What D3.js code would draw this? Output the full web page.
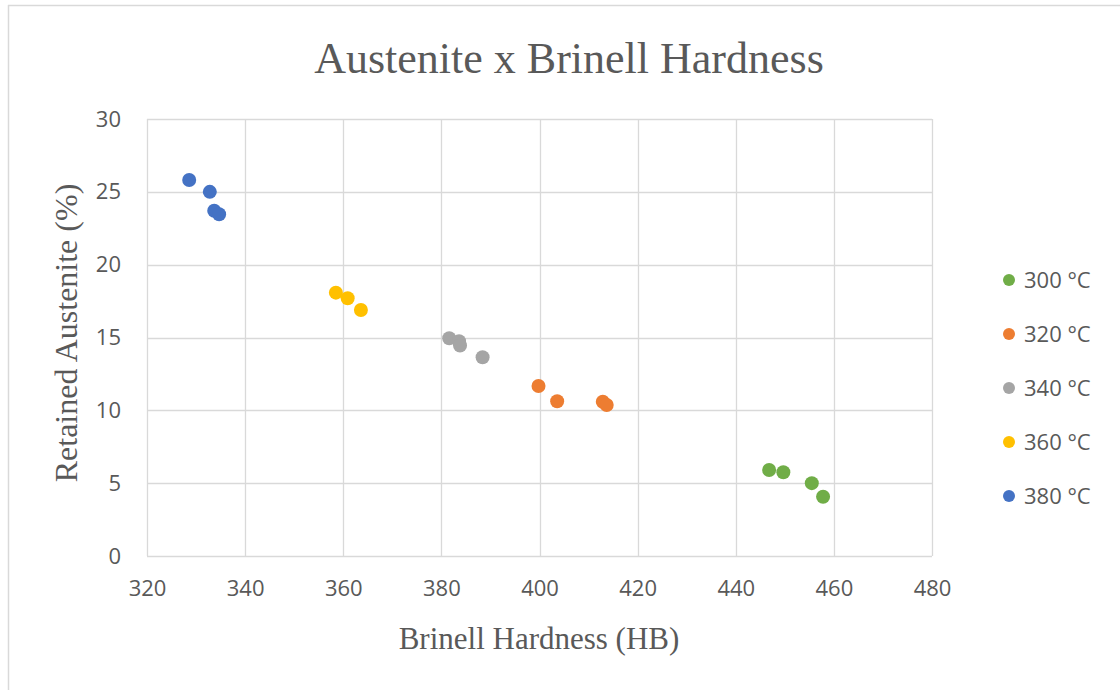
<!DOCTYPE html>
<html>
<head>
<meta charset="utf-8">
<script src="https://cdn.jsdelivr.net/npm/d3@7"></script>
<style>
  html, body { margin: 0; padding: 0; background: #fff; }
  svg { display: block; }
</style>
</head>
<body>
<svg id="chart" width="1120" height="690"></svg>
<script>
// Series: tempering temperature, colour, and measured (hardness, retained austenite) pairs
const seriesNames = ["300 °C", "320 °C", "340 °C", "360 °C", "380 °C"];
const seriesColors = ["#70ad47", "#ed7d31", "#a5a5a5", "#ffc000", "#4472c4"];

const hardness300 = [446.8, 449.7, 455.5, 457.8];
const austenite300 = [5.9, 5.75, 5.0, 4.07];

const hardness320 = [399.8, 403.6, 412.9, 413.7];
const austenite320 = [11.67, 10.62, 10.59, 10.37];

const hardness340 = [381.6, 383.6, 383.8, 388.4];
const austenite340 = [14.95, 14.75, 14.45, 13.64];

const hardness360 = [358.5, 360.9, 363.6];
const austenite360 = [18.08, 17.69, 16.89];

const hardness380 = [328.6, 332.8, 333.7, 334.7];
const austenite380 = [25.81, 25.0, 23.7, 23.46];

const xTicks = [320, 340, 360, 380, 400, 420, 440, 460, 480];
const yTicks = [0, 5, 10, 15, 20, 25, 30];

const titleText = "Austenite x Brinell Hardness";
const xTitle = "Brinell Hardness (HB)";
const yTitle = "Retained Austenite (%)";

const allHardness = [hardness300, hardness320, hardness340, hardness360, hardness380];
const allAustenite = [austenite300, austenite320, austenite340, austenite360, austenite380];

const series = seriesNames.map((name, i) => ({
  name,
  color: seriesColors[i],
  points: allHardness[i].map((h, j) => ({ x: h, y: allAustenite[i][j] }))
}));

const svg = d3.select("#chart");
const W = 1120, H = 690;
const plot = { left: 147, right: 932, top: 119, bottom: 556 };

const serif = "'Liberation Serif', 'DejaVu Serif', serif";
const sans = "'Open Sans', 'Noto Sans', sans-serif";
const textColor = "#595959";
const gridColor = "#d9d9d9";

// Chart frame (top and left edges visible)
svg.append("line").attr("x1", 8).attr("x2", W).attr("y1", 5.5).attr("y2", 5.5)
  .attr("stroke", "#d9d9d9").attr("stroke-width", 1.5);
svg.append("line").attr("x1", 8.5).attr("x2", 8.5).attr("y1", 5).attr("y2", H)
  .attr("stroke", "#d9d9d9").attr("stroke-width", 1.5);

const x = d3.scaleLinear().domain([320, 480]).range([plot.left, plot.right]);
const y = d3.scaleLinear().domain([0, 30]).range([plot.bottom, plot.top]);

// Gridlines
const grid = svg.append("g");
grid.selectAll("line.v").data(xTicks).join("line")
  .attr("class", "v")
  .attr("x1", d => Math.round(x(d)) + 0.5).attr("x2", d => Math.round(x(d)) + 0.5)
  .attr("y1", plot.top).attr("y2", plot.bottom)
  .attr("stroke", gridColor).attr("stroke-width", 1.3);
grid.selectAll("line.h").data(yTicks).join("line")
  .attr("class", "h")
  .attr("x1", plot.left).attr("x2", plot.right)
  .attr("y1", d => Math.round(y(d)) + 0.5).attr("y2", d => Math.round(y(d)) + 0.5)
  .attr("stroke", gridColor).attr("stroke-width", 1.3);

// Axes (labels only; lines come from the grid)
const xAxis = svg.append("g")
  .attr("transform", `translate(0,${plot.bottom})`)
  .call(d3.axisBottom(x).tickValues(xTicks).tickSize(0).tickPadding(24));
xAxis.select(".domain").remove();
xAxis.selectAll("text").attr("font-family", sans).attr("font-size", 22).attr("fill", textColor);

const yAxis = svg.append("g")
  .attr("transform", `translate(${plot.left},0)`)
  .call(d3.axisLeft(y).tickValues(yTicks).tickSize(0).tickPadding(26));
yAxis.select(".domain").remove();
yAxis.selectAll("text").attr("font-family", sans).attr("font-size", 22).attr("fill", textColor);

// Titles
svg.append("text").attr("x", 569).attr("y", 73).attr("text-anchor", "middle")
  .attr("font-family", serif).attr("font-size", 44).attr("fill", textColor)
  .text(titleText);
svg.append("text").attr("x", 539).attr("y", 649).attr("text-anchor", "middle")
  .attr("font-family", serif).attr("font-size", 31).attr("fill", textColor)
  .text(xTitle);
svg.append("text").attr("transform", `translate(77,${333}) rotate(-90)`)
  .attr("text-anchor", "middle")
  .attr("font-family", serif).attr("font-size", 32).attr("fill", textColor)
  .text(yTitle);

// Points
const marks = svg.append("g");
series.forEach(s => {
  marks.append("g").selectAll("circle").data(s.points).join("circle")
    .attr("cx", d => x(d.x)).attr("cy", d => y(d.y)).attr("r", 7)
    .attr("fill", s.color);
});

// Legend
const legend = svg.append("g").attr("transform", "translate(1009,280)");
const item = legend.selectAll("g").data(series).join("g")
  .attr("transform", (d, i) => `translate(0,${i * 54})`);
item.append("circle").attr("r", 6).attr("fill", d => d.color);
item.append("text").attr("x", 15).attr("y", 0).attr("dy", "0.35em")
  .attr("font-family", sans).attr("font-size", 22).attr("fill", textColor)
  .text(d => d.name);
</script>
</body>
</html>
